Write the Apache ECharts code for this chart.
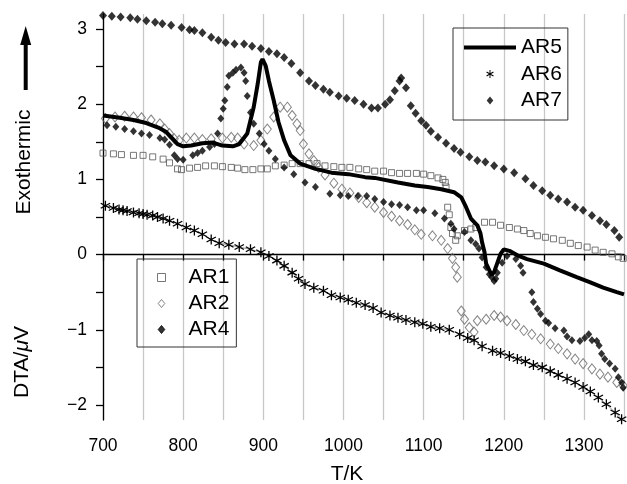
<!DOCTYPE html>
<html>
<head>
<meta charset="utf-8">
<script src="https://cdn.jsdelivr.net/npm/echarts@6/dist/echarts.min.js"></script>
<style>
  html, body { margin: 0; padding: 0; background: #fff; }
  #chart { width: 627px; height: 484px; }
</style>
</head>
<body>
<div id="chart"></div>
<script>
// DTA curves, [T/K, DTA/uV]
const ar1 = [[700,1.35],[713,1.34],[723,1.33],[738,1.32],[750,1.32],[762,1.30],[775,1.27],[783,1.22],[793,1.14],[798,1.13],
  [808,1.15],[818,1.16],[828,1.18],[839,1.18],[849,1.17],[860,1.16],[868,1.15],[877,1.13],[887,1.13],[897,1.14],
  [905,1.14],[915,1.18],[926,1.19],[936,1.21],[946,1.21],[957,1.21],[967,1.21],[977,1.18],[988,1.17],[998,1.16],
  [1008,1.16],[1019,1.14],[1029,1.13],[1039,1.11],[1050,1.11],[1060,1.09],[1070,1.08],[1080,1.08],[1091,1.08],[1100,1.07],
  [1109,1.05],[1118,1.02],[1124,1.00],[1127,0.96],[1128,0.90],[1130,0.63],[1132,0.53],[1134,0.36],[1136,0.28],[1140,0.19],
  [1142,0.25],[1151,0.32],[1159,0.34],[1165,0.36],[1176,0.43],[1186,0.43],[1196,0.39],[1207,0.36],[1217,0.34],[1225,0.32],
  [1233,0.28],[1242,0.25],[1252,0.23],[1262,0.21],[1273,0.19],[1283,0.15],[1293,0.12],[1304,0.10],[1314,0.06],[1324,0.03],
  [1335,0.01],[1343,-0.03],[1349,-0.05]];

const ar2 = [[703,1.81],[715,1.83],[727,1.84],[738,1.83],[748,1.82],[760,1.79],[771,1.74],[777,1.67],[783,1.61],[789,1.54],
  [795,1.52],[804,1.55],[814,1.55],[824,1.53],[835,1.54],[849,1.55],[860,1.56],[868,1.55],[876,1.47],[888,1.45],
  [897,1.52],[905,1.67],[913,1.83],[921,1.96],[930,1.96],[936,1.85],[942,1.74],[946,1.65],[950,1.47],[957,1.34],
  [963,1.25],[969,1.16],[977,1.06],[988,0.95],[998,0.87],[1008,0.82],[1019,0.76],[1029,0.69],[1039,0.63],[1050,0.56],
  [1060,0.51],[1070,0.45],[1080,0.40],[1089,0.33],[1097,0.27],[1111,0.25],[1122,0.19],[1130,0.08],[1136,-0.05],[1140,-0.17],
  [1142,-0.30],[1147,-0.75],[1151,-0.86],[1157,-0.97],[1163,-1.03],[1167,-0.88],[1178,-0.86],[1188,-0.81],[1196,-0.83],[1204,-0.88],
  [1215,-0.93],[1225,-1.01],[1235,-1.06],[1246,-1.12],[1258,-1.19],[1268,-1.25],[1279,-1.32],[1289,-1.39],[1299,-1.45],[1310,-1.52],
  [1320,-1.59],[1330,-1.63],[1341,-1.70],[1349,-1.74]];

const ar4 = [[705,1.72],[716,1.70],[727,1.67],[738,1.64],[748,1.61],[758,1.59],[771,1.55],[777,1.53],[783,1.46],[789,1.32],
  [793,1.27],[800,1.26],[812,1.32],[818,1.35],[824,1.38],[833,1.43],[839,1.47],[843,1.61],[847,1.81],[850,1.94],
  [852,2.05],[855,2.23],[857,2.38],[862,2.42],[866,2.46],[872,2.49],[876,2.42],[878,2.31],[880,2.11],[884,1.89],
  [888,1.74],[895,1.61],[901,1.47],[907,1.38],[915,1.27],[926,1.16],[938,1.07],[952,0.96],[965,0.90],[983,0.81],
  [996,0.79],[1006,0.78],[1018,0.78],[1029,0.78],[1039,0.74],[1050,0.70],[1060,0.67],[1070,0.66],[1080,0.63],[1091,0.59],
  [1100,0.59],[1114,0.55],[1126,0.48],[1134,0.41],[1138,0.34],[1151,0.30],[1159,0.19],[1165,0.14],[1169,0.08],[1173,-0.04],
  [1178,-0.17],[1182,-0.26],[1185,-0.30],[1188,-0.35],[1190,-0.32],[1192,-0.24],[1198,-0.11],[1204,-0.02],[1215,-0.06],[1221,-0.15],
  [1224,-0.24],[1235,-0.50],[1237,-0.63],[1242,-0.72],[1246,-0.79],[1252,-0.88],[1256,-0.91],[1264,-0.98],[1275,-1.01],[1279,-1.09],
  [1285,-1.14],[1295,-1.15],[1301,-1.11],[1306,-1.06],[1310,-1.14],[1316,-1.15],[1319,-1.21],[1322,-1.32],[1326,-1.39],[1332,-1.45],
  [1339,-1.52],[1343,-1.63],[1347,-1.70],[1349,-1.77]];

const ar5 = [[700,1.85],[721,1.82],[738,1.79],[754,1.75],[769,1.69],[779,1.63],[787,1.54],[793,1.47],[800,1.44],[810,1.45],
  [824,1.48],[837,1.49],[849,1.45],[862,1.44],[870,1.47],[880,1.61],[888,1.96],[893,2.27],[897,2.56],[899,2.60],
  [903,2.51],[907,2.31],[913,2.05],[919,1.76],[926,1.52],[934,1.32],[946,1.21],[965,1.14],[985,1.09],[1006,1.07],
  [1027,1.03],[1039,1.02],[1068,0.96],[1089,0.92],[1105,0.90],[1122,0.87],[1138,0.83],[1147,0.76],[1153,0.63],[1159,0.48],
  [1167,0.39],[1171,0.28],[1173,0.16],[1176,0.03],[1178,-0.12],[1182,-0.21],[1185,-0.27],[1188,-0.23],[1192,-0.11],[1196,0.01],
  [1200,0.07],[1207,0.05],[1217,-0.01],[1229,-0.06],[1250,-0.12],[1270,-0.21],[1291,-0.30],[1308,-0.37],[1324,-0.44],[1341,-0.50],
  [1350,-0.53]];

const ar6 = [[703,0.65],[713,0.62],[720,0.60],[725,0.59],[730,0.58],[738,0.56],[745,0.55],[750,0.54],[755,0.53],[762,0.52],
  [768,0.50],[775,0.48],[783,0.45],[793,0.41],[804,0.36],[814,0.32],[824,0.27],[835,0.20],[845,0.15],[857,0.13],
  [870,0.10],[884,0.07],[897,0.03],[907,-0.02],[917,-0.08],[926,-0.15],[936,-0.24],[944,-0.32],[952,-0.39],[963,-0.44],
  [975,-0.48],[985,-0.54],[996,-0.57],[1006,-0.60],[1016,-0.64],[1027,-0.67],[1037,-0.71],[1047,-0.77],[1058,-0.81],[1068,-0.84],
  [1078,-0.87],[1089,-0.90],[1099,-0.92],[1109,-0.96],[1120,-0.98],[1132,-1.00],[1145,-1.06],[1155,-1.11],[1163,-1.14],[1173,-1.22],
  [1186,-1.28],[1196,-1.31],[1207,-1.35],[1217,-1.39],[1227,-1.42],[1237,-1.47],[1248,-1.50],[1258,-1.55],[1268,-1.60],[1279,-1.65],
  [1289,-1.70],[1299,-1.76],[1308,-1.82],[1318,-1.90],[1328,-1.99],[1339,-2.10],[1347,-2.19]];

const ar7 = [[700,3.18],[711,3.17],[722,3.16],[734,3.15],[743,3.13],[754,3.11],[765,3.09],[774,3.07],[785,3.05],[798,3.02],
  [808,2.99],[814,2.98],[824,2.95],[835,2.89],[844,2.85],[853,2.82],[864,2.80],[876,2.80],[886,2.77],[897,2.74],
  [907,2.70],[917,2.67],[926,2.62],[935,2.54],[946,2.42],[957,2.31],[965,2.25],[975,2.20],[983,2.16],[994,2.11],
  [1004,2.08],[1014,2.05],[1025,2.00],[1035,1.95],[1043,1.95],[1052,2.00],[1058,2.06],[1064,2.18],[1070,2.31],[1072,2.35],
  [1078,2.22],[1084,1.98],[1090,1.88],[1097,1.78],[1103,1.72],[1109,1.64],[1118,1.56],[1128,1.48],[1138,1.41],[1146,1.36],
  [1157,1.30],[1167,1.25],[1177,1.23],[1188,1.18],[1200,1.14],[1213,1.09],[1227,1.01],[1237,0.92],[1248,0.85],[1258,0.79],
  [1268,0.74],[1279,0.70],[1289,0.63],[1299,0.59],[1310,0.52],[1320,0.45],[1328,0.40],[1338,0.32],[1344,0.23]];

const yTicks = [-2, -1.5, -1, -0.5, 0, 0.5, 1, 1.5, 2, 2.5, 3];

const FONT = 'Liberation Sans, Arial, Helvetica, sans-serif';
// six-armed asterisk made of three filled bars
const asterisk = 'path://M44,0L56,0L56,100L44,100Z M90.3,19.8L96.3,30.2L9.7,80.2L3.7,69.8Z M96.3,69.8L90.3,80.2L3.7,30.2L9.7,19.8Z';
// legend icons as paths so they keep their aspect
const squareIcon = 'path://M0,0L10,0L10,10L0,10Z';
const diamondIcon = 'path://M5,0L10,6L5,12L0,6Z';
const clear = 'rgba(255,255,255,0)';

const chart = echarts.init(document.getElementById('chart'));

chart.setOption({
  animation: false,
  backgroundColor: '#fff',
  grid: { left: 103, right: 0, top: 14, bottom: 64 },
  xAxis: {
    type: 'value',
    min: 700,
    max: 1350,
    interval: 50,
    axisLine: { lineStyle: { color: '#000', width: 1.3 } },
    axisTick: { length: 6, lineStyle: { color: '#000', width: 1.3 } },
    axisLabel: {
      margin: 17,
      fontSize: 17.5,
      fontFamily: FONT,
      color: '#000',
      formatter: (v) => (v % 100 === 0 ? String(v) : ''),
    },
    splitLine: { show: true, lineStyle: { color: '#c8c8c8', width: 1.3 } },
  },
  yAxis: {
    type: 'value',
    min: -2.2,
    max: 3.2,
    splitNumber: 5,
    axisLine: { show: true, lineStyle: { color: '#000', width: 1.3 } },
    axisTick: { show: true, length: 7, customValues: yTicks, lineStyle: { color: '#000', width: 1.3 } },
    axisLabel: {
      margin: 16,
      showMinLabel: false,
      showMaxLabel: false,
      fontSize: 17.5,
      fontFamily: FONT,
      color: '#000',
      formatter: (v) => (v < 0 ? '\u2212' + Math.abs(v) : String(v)),
    },
    splitLine: { show: false },
  },
  legend: [
    {
      orient: 'vertical',
      left: 453,
      top: 28,
      padding: [9, 6, 9, 9],
      itemWidth: 52,
      itemHeight: 8,
      itemGap: 5.5,
      borderColor: '#333',
      borderWidth: 1,
      selectedMode: false,
      lineStyle: { width: 4 },
      textStyle: { fontSize: 21, fontFamily: FONT, color: '#000' },
      data: [
        { name: 'AR5', itemStyle: { opacity: 0 } },
        { name: 'AR6', icon: asterisk },
        { name: 'AR7', icon: diamondIcon },
      ],
    },
    {
      orient: 'vertical',
      left: 137,
      top: 259,
      padding: [8, 7, 7, 20],
      itemWidth: 8,
      itemHeight: 8,
      itemGap: 5,
      borderColor: '#333',
      borderWidth: 1,
      selectedMode: false,
      itemStyle: { borderWidth: 1 },
      textStyle: { fontSize: 21, fontFamily: FONT, color: '#000', padding: [0, 0, 0, 18] },
      data: [
        { name: 'AR1', icon: squareIcon },
        { name: 'AR2', icon: diamondIcon },
        { name: 'AR4', icon: diamondIcon },
      ],
    },
  ],
  series: [
    {
      name: 'AR1',
      type: 'scatter',
      data: ar1,
      symbol: 'rect',
      symbolSize: 6,
      itemStyle: { color: clear, borderColor: '#555', borderWidth: 1 },
    },
    {
      name: 'AR2',
      type: 'scatter',
      data: ar2,
      symbol: 'diamond',
      symbolSize: [8, 10],
      itemStyle: { color: clear, borderColor: '#666', borderWidth: 1 },
    },
    {
      name: 'AR6',
      type: 'line',
      data: ar6,
      symbol: asterisk,
      symbolSize: 10,
      showSymbol: true,
      itemStyle: { color: '#000' },
      lineStyle: { color: '#999', width: 1 },
    },
    {
      name: 'AR4',
      type: 'scatter',
      data: ar4,
      symbol: 'diamond',
      symbolSize: [7, 8],
      itemStyle: { color: '#000', borderColor: '#000', borderWidth: 0 },
    },
    {
      name: 'AR7',
      type: 'scatter',
      data: ar7,
      symbol: 'diamond',
      symbolSize: [8, 9],
      itemStyle: { color: '#000', borderColor: '#000', borderWidth: 0 },
    },
    {
      name: 'AR5',
      type: 'line',
      data: ar5,
      symbol: 'none',
      z: 5,
      itemStyle: { color: '#000' },
      lineStyle: { color: '#000', width: 4 },
    },
  ],
  graphic: [
    {
      type: 'text',
      x: 347,
      y: 474,
      style: { text: 'T/K', font: '21px ' + FONT, fill: '#000', align: 'center', verticalAlign: 'middle' },
    },
    {
      type: 'text',
      x: 22,
      y: 362,
      rotation: Math.PI / 2,
      style: {
        text: 'DTA/{i|\u03bc}V',
        font: '21px ' + FONT,
        fill: '#000',
        align: 'center',
        verticalAlign: 'middle',
        rich: { i: { fontStyle: 'italic', fontSize: 21, fontFamily: FONT } },
      },
    },
    {
      type: 'text',
      x: 24,
      y: 162,
      rotation: Math.PI / 2,
      style: { text: 'Exothermic', font: '21px ' + FONT, fill: '#000', align: 'center', verticalAlign: 'middle' },
    },
    {
      type: 'line',
      shape: { x1: 25.7, y1: 90, x2: 25.7, y2: 42 },
      style: { stroke: '#000', lineWidth: 4 },
    },
    {
      type: 'polygon',
      shape: { points: [[25.7, 26], [20.2, 45], [31.2, 45]] },
      style: { fill: '#000' },
    },
  ],
});
</script>
</body>
</html>
